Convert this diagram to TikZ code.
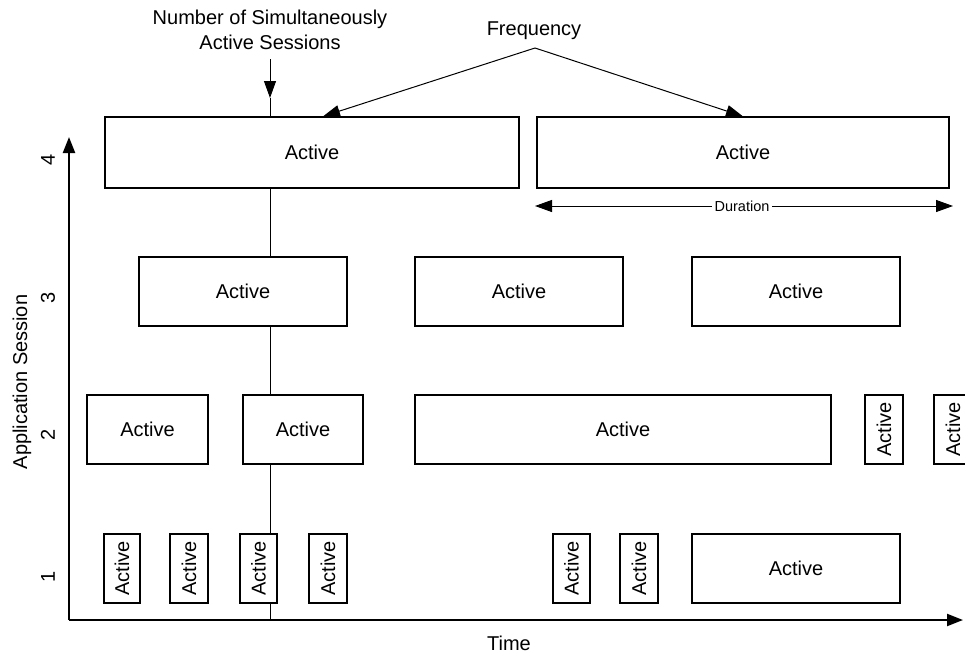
\documentclass[tikz,border=0pt]{standalone}
\usepackage{fontspec}
\setmainfont{Liberation Sans}
\usetikzlibrary{arrows.meta}
\tikzset{
  big/.style={font=\fontsize{20}{25}\selectfont},
  hbox/.style={draw, fill=white, line width=1.2pt, inner sep=0pt, big},
  vbox/.style={hbox, rotate=90},
  thinline/.style={line width=1pt},
  axis/.style={line width=2.2pt, -{Triangle[length=16pt,width=12pt]}},
  tip/.style={-{Triangle[length=17pt,width=12pt]}},
}
\begin{document}
\begin{tikzpicture}[x=1pt,y=-1pt]
\useasboundingbox (0,0) rectangle (965,653);
% coordinates
\coordinate (vtop) at (270,59);
\coordinate (vtip) at (270,98);
\coordinate (vbot) at (270,620);
\coordinate (orig) at (69,620);
\coordinate (ytop) at (69,137);
\coordinate (xend) at (963,620);
\coordinate (apex) at (535,48);
\coordinate (durL) at (535,206);
\coordinate (durR) at (953,206);
% labels
\node[big, align=center, inner sep=0pt] (num) at (270,30) {Number of Simultaneously\\Active Sessions};
\node[big, inner sep=0pt] (freq) at (534,31) {Frequency};
\node[big, inner sep=0pt] (time) at (509,643) {Time};
\node[big, rotate=90, inner sep=0pt] (appl) at (22,382) {Application Session};
\node[big, rotate=90, inner sep=0pt] (t4) at (48,160) {4};
\node[big, rotate=90, inner sep=0pt] (t3) at (48,298) {3};
\node[big, rotate=90, inner sep=0pt] (t2) at (48,435) {2};
\node[big, rotate=90, inner sep=0pt] (t1) at (48,577) {1};
% vertical marker line
\draw[thinline, tip] (vtop) -- (vtip);
\draw[thinline] (vtip) -- (vbot);
% axes
\draw[axis] (orig) -- (ytop);
\draw[axis] (orig) -- (xend);
% row 4
\node[hbox, minimum width=414pt, minimum height=71pt] (a4) at (312,152.5) {Active};
\node[hbox, minimum width=412pt, minimum height=71pt] (b4) at (743,152.5) {Active};
% row 3
\node[hbox, minimum width=208pt, minimum height=69pt] (a3) at (243,291.5) {Active};
\node[hbox, minimum width=208pt, minimum height=69pt] (b3) at (519,291.5) {Active};
\node[hbox, minimum width=208pt, minimum height=69pt] (c3) at (796,291.5) {Active};
% row 2
\node[hbox, minimum width=121pt, minimum height=69pt] (a2) at (147.5,429.5) {Active};
\node[hbox, minimum width=120pt, minimum height=69pt] (b2) at (303,429.5) {Active};
\node[hbox, minimum width=416pt, minimum height=69pt] (c2) at (623,429.5) {Active};
\node[vbox, minimum width=69pt, minimum height=38pt] (d2) at (884,429.5) {Active};
\node[vbox, minimum width=69pt, minimum height=38pt] (e2) at (953,429.5) {Active};
% row 1
\node[vbox, minimum width=69pt, minimum height=36pt] (a1) at (122,568.5) {Active};
\node[vbox, minimum width=69pt, minimum height=38pt] (b1) at (189,568.5) {Active};
\node[vbox, minimum width=69pt, minimum height=37pt] (c1) at (258.5,568.5) {Active};
\node[vbox, minimum width=69pt, minimum height=38pt] (d1) at (328,568.5) {Active};
\node[vbox, minimum width=69pt, minimum height=37pt] (e1) at (571.5,568.5) {Active};
\node[vbox, minimum width=69pt, minimum height=38pt] (f1) at (639,568.5) {Active};
\node[hbox, minimum width=208pt, minimum height=69pt] (g1) at (796,568.5) {Active};
% frequency arrows
\draw[thinline, tip] (apex) -- ([xshift=11pt]a4.north);
\draw[thinline, tip] (apex) -- (b4.north);
% duration
\draw[thinline, {Triangle[length=17pt,width=12pt]}-{Triangle[length=17pt,width=12pt]}] (durL) -- (durR);
\node[fill=white, inner sep=2.5pt, font=\fontsize{14.5}{17}\selectfont] (dur) at (742,206) {Duration};
\end{tikzpicture}
\end{document}
